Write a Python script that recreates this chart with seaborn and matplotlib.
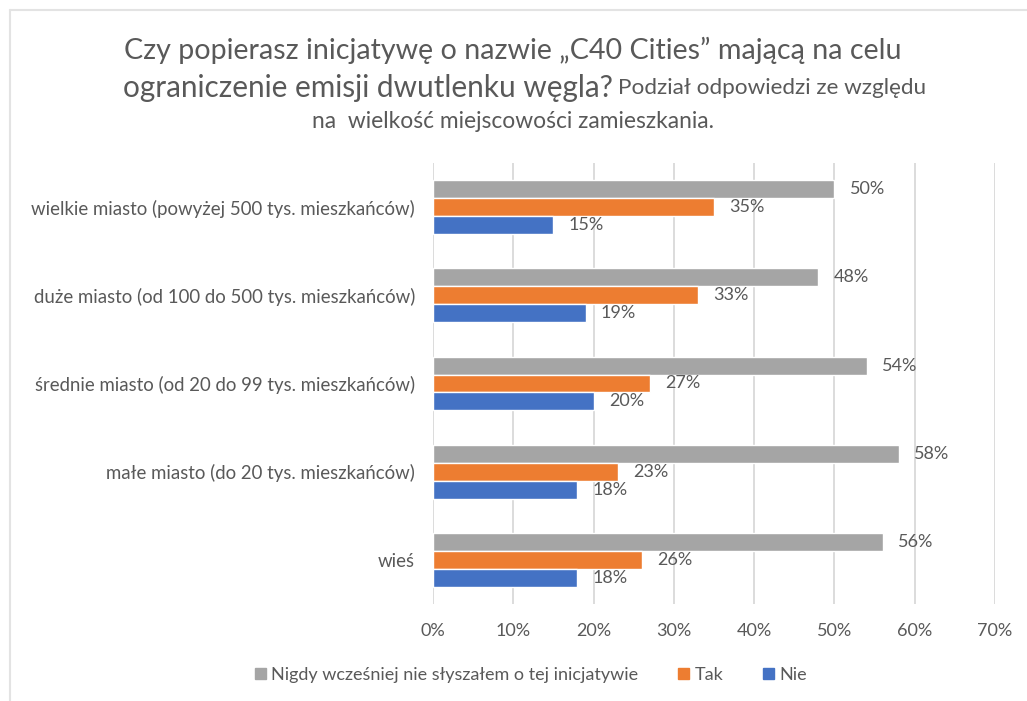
import matplotlib
matplotlib.use("Agg")
import matplotlib.pyplot as plt
from matplotlib.lines import Line2D
import seaborn as sns
import pandas as pd

categories = [
    "wielkie miasto (powyżej 500 tys. mieszkańców)",
    "duże miasto (od 100 do 500 tys. mieszkańców)",
    "średnie miasto (od 20 do 99 tys. mieszkańców)",
    "małe miasto (do 20 tys. mieszkańców)",
    "wieś",
]
series = ["Nigdy wcześniej nie słyszałem o tej inicjatywie", "Tak", "Nie"]
nigdy = [50, 48, 54, 58, 56]
tak = [35, 33, 27, 23, 26]
nie = [15, 19, 20, 18, 18]
colors = ["#A5A5A5", "#ED7D31", "#4472C4"]
x_ticks = [0, 10, 20, 30, 40, 50, 60, 70]

TXT = "#595959"

rows = []
for name, vals in zip(series, [nigdy, tak, nie]):
    for cat, v in zip(categories, vals):
        rows.append({"kategoria": cat, "seria": name, "wartosc": v})
df = pd.DataFrame(rows)

sns.set_style("white")
plt.rcParams["font.family"] = ["Lato", "DejaVu Sans"]

fig = plt.figure(figsize=(10.27, 7.01), dpi=100)
ax = fig.add_axes([0.4216, 0.1384, 0.5472, 0.6291])

sns.barplot(data=df, y="kategoria", x="wartosc", hue="seria", order=categories,
            hue_order=series, palette=colors, orient="h", width=0.61, gap=0,
            saturation=1, ax=ax, legend=False)

for cont, vals in zip(ax.containers, [nigdy, tak, nie]):
    ax.bar_label(cont, labels=[f"{v}%" for v in vals], padding=11,
                 fontsize=13, color=TXT)

ax.set_xlim(0, 70)
ax.set_xticks(x_ticks)
ax.set_xticklabels([f"{t}%" for t in x_ticks])
ax.set_ylim(4.5, -0.5)
ax.grid(axis="x", color="#D9D9D9", linewidth=1.3)
ax.set_axisbelow(True)
for s in ax.spines.values():
    s.set_visible(False)
ax.set_xlabel("")
ax.set_ylabel("")
ax.tick_params(axis="x", labelsize=13, labelcolor=TXT, length=0, pad=14)
ax.tick_params(axis="y", labelsize=13.4, labelcolor=TXT, length=0, pad=13)

handles = [plt.Rectangle((0, 0), 1, 1, color=c) for c in colors]
fig.legend(handles, series, loc="center", bbox_to_anchor=(531 / 1027, 1 - 675 / 701),
           ncol=3, frameon=False, fontsize=13, labelcolor=TXT,
           handlelength=0.6, handleheight=0.6, handletextpad=0.3, columnspacing=2.2)

# title, mixed sizes as in the original
fig.text(513 / 1027, 1 - 50 / 701,
         "Czy popierasz inicjatywę o nazwie „C40 Cities” mającą na celu",
         ha="center", va="center", fontsize=20.6, color=TXT)
fig.text(613 / 1027, 1 - 88 / 701, "ograniczenie emisji dwutlenku węgla?",
         ha="right", va="center", fontsize=21.4, color=TXT)
fig.text(618 / 1027, 1 - 88 / 701, "Podział odpowiedzi ze względu",
         ha="left", va="center", fontsize=16.2, color=TXT)
fig.text(513 / 1027, 1 - 122 / 701, "na  wielkość miejscowości zamieszkania.",
         ha="center", va="center", fontsize=16.4, color=TXT)

# thin chart frame
fig.add_artist(Line2D([10 / 1027, 1], [1 - 10 / 701, 1 - 10 / 701],
                      color="#E3E3E3", linewidth=1.5))
fig.add_artist(Line2D([10 / 1027, 10 / 1027], [0, 1 - 10 / 701],
                      color="#E3E3E3", linewidth=1.5))

fig.savefig("out.png", dpi=100, facecolor="white")
plt.close(fig)
